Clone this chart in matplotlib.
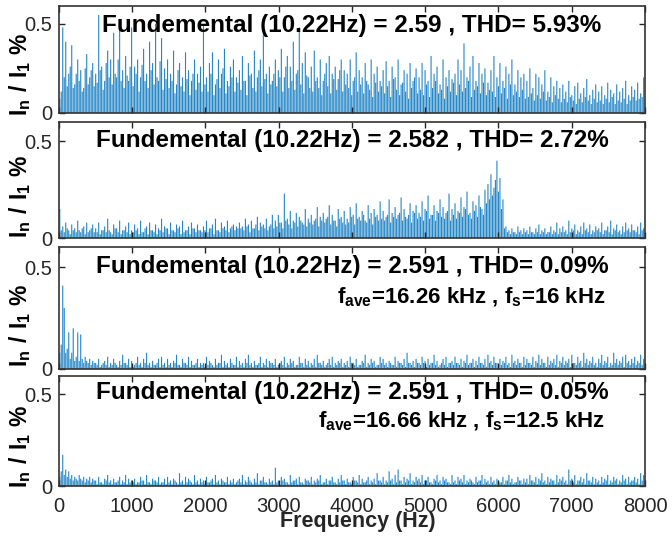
import numpy as np
import matplotlib
matplotlib.use('Agg')
import matplotlib.pyplot as plt

plt.rcParams['font.family'] = ['Liberation Sans', 'DejaVu Sans']
plt.rcParams['mathtext.fontset'] = 'custom'
plt.rcParams['mathtext.rm'] = 'Liberation Sans'
plt.rcParams['mathtext.bf'] = 'Liberation Sans:bold'

# fundamental frequency and harmonic step used for each plotted bar
f0 = 10.22
step = 2

# harmonic amplitudes, in units of 0.01 % of I1 (one row ~ 490 Hz)
amp_a = [
    8, 12, 48, 20, 40, 15, 22, 26, 38, 14, 16, 22, 30, 18, 24, 12, 14, 25, 33, 16, 20, 24, 28, 15,
    22, 17, 55, 24, 26, 13, 18, 28, 35, 20, 30, 16, 45, 22, 20, 30, 50, 18, 24, 14, 32, 21, 18, 26,
    48, 15, 26, 22, 30, 12, 20, 27, 36, 18, 22, 14, 40, 24, 28, 16, 50, 20, 18, 29, 42, 13, 25, 19,
    30, 14, 22, 18, 35, 11, 16, 24, 28, 15, 20, 12, 34, 19, 24, 10, 18, 22, 30, 13, 22, 17, 26, 12,
    49, 16, 20, 12, 28, 22, 34, 10, 16, 19, 30, 14, 22, 25, 36, 11, 18, 15, 26, 20, 30, 12, 20, 17,
    24, 13, 32, 18, 18, 10, 28, 21, 22, 14, 35, 12, 20, 24, 30, 15, 49, 19, 22, 11, 26, 16, 18, 22,
    30, 15, 24, 20, 36, 12, 20, 26, 32, 14, 26, 18, 40, 13, 22, 24, 48, 16, 28, 11, 34, 21, 20, 14,
    26, 12, 35, 18, 20, 14, 30, 10, 18, 22, 28, 15, 32, 11, 22, 19, 26, 13, 19, 24, 30, 12, 24, 16,
    22, 14, 30, 10, 18, 20, 34, 12, 24, 16, 20, 11, 28, 18, 16, 13, 30, 9, 22, 17, 26, 12, 18, 15,
    24, 11, 29, 15, 18, 9, 26, 19, 20, 13, 30, 10, 16, 17, 24, 12, 22, 8, 28, 14, 18, 20, 25, 11,
    20, 13, 28, 10, 24, 16, 18, 9, 32, 14, 22, 18, 26, 11, 16, 13, 30, 8, 20, 15, 24, 12, 19, 17,
    22, 10, 30, 16, 24, 12, 39, 14, 20, 18, 26, 9, 32, 13, 18, 15, 28, 11, 22, 17, 25, 10, 17, 13,
    24, 12, 32, 9, 20, 15, 28, 11, 18, 14, 26, 8, 22, 16, 30, 10, 16, 12, 24, 9, 20, 13, 22, 8,
    18, 9, 25, 11, 14, 7, 22, 10, 20, 8, 16, 12, 24, 7, 12, 9, 20, 6, 15, 10, 18, 8, 14, 6,
    16, 8, 12, 6, 18, 9, 10, 7, 15, 5, 17, 8, 11, 6, 14, 9, 19, 7, 10, 5, 13, 8, 16, 6,
    12, 7, 15, 5, 10, 8, 17, 6, 13, 9, 11, 5, 16, 7, 12, 6, 14, 8, 18, 5, 10, 7, 15, 9,
    13, 7, 17, 8, 11, 9, 20,
]
amp_b = [
    15, 4, 6, 3, 8, 5, 4, 2, 7, 4, 5, 3, 9, 4, 3, 5, 6, 2, 8, 3, 4, 5, 7, 3,
    5, 3, 8, 2, 4, 4, 6, 3, 10, 4, 3, 2, 7, 5, 5, 3, 9, 2, 4, 4, 6, 3, 8, 2,
    4, 3, 7, 4, 5, 2, 9, 3, 3, 5, 6, 2, 8, 4, 4, 3, 7, 2, 5, 4, 10, 3, 6, 5,
    5, 2, 8, 4, 4, 3, 7, 5, 6, 2, 9, 3, 4, 4, 6, 2, 8, 5, 5, 3, 7, 4, 4, 3,
    6, 4, 9, 3, 5, 5, 7, 2, 10, 4, 4, 3, 8, 5, 6, 4, 9, 3, 5, 6, 7, 4, 6, 5,
    8, 5, 6, 4, 10, 6, 7, 3, 9, 5, 5, 7, 11, 4, 8, 6, 7, 5, 10, 4, 6, 7, 12, 5,
    9, 6, 12, 8, 8, 5, 23, 9, 10, 7, 14, 5, 9, 8, 13, 6, 11, 9, 8, 7, 15, 6, 10, 8,
    12, 7, 9, 10, 16, 6, 11, 9, 13, 8, 10, 11, 17, 7, 12, 9, 9, 6, 15, 10, 11, 8, 14, 7,
    10, 8, 16, 11, 12, 7, 18, 10, 11, 9, 14, 12, 9, 8, 17, 10, 13, 7, 15, 11, 12, 9, 19, 10,
    14, 9, 11, 12, 20, 8, 13, 11, 16, 10, 12, 13, 21, 9, 15, 11, 10, 12, 18, 8, 14, 13, 17, 10,
    13, 11, 19, 9, 15, 14, 22, 10, 12, 12, 17, 9, 14, 13, 20, 11, 16, 10, 13, 14, 23, 9, 15, 12,
    18, 10, 14, 13, 21, 11, 16, 15, 24, 12, 13, 10, 19, 14, 17, 11, 22, 16, 15, 12, 25, 18, 28, 20,
    33, 22, 26, 30, 40, 24, 31, 15, 20, 5, 6, 3, 4, 2, 5, 3, 3, 2, 6, 3, 4, 2, 5, 3,
    4, 2, 6, 3, 3, 2, 5, 3, 7, 2, 4, 3, 5, 2, 3, 3, 6, 2, 4, 3, 8, 2, 5, 3,
    6, 3, 4, 2, 9, 3, 5, 4, 7, 2, 4, 3, 6, 2, 8, 4, 5, 3, 7, 2, 4, 3, 6, 4,
    5, 3, 8, 2, 4, 4, 6, 3, 9, 2, 5, 4, 7, 3, 4, 2, 6, 3, 8, 4, 5, 3, 7, 4,
    4, 3, 6, 2, 8, 4, 5,
]
amp_c = [
    8, 12, 41, 30, 8, 10, 18, 5, 8, 20, 4, 6, 18, 4, 17, 5, 3, 6, 4, 3, 5, 2, 4, 3,
    3, 2, 5, 1, 2, 3, 4, 2, 6, 1, 3, 2, 5, 3, 2, 1, 4, 2, 7, 3, 3, 2, 5, 1,
    4, 1, 2, 3, 6, 2, 3, 1, 5, 3, 8, 2, 3, 1, 4, 2, 2, 3, 5, 1, 6, 2, 3, 1,
    5, 2, 3, 1, 4, 3, 7, 2, 2, 1, 5, 3, 3, 2, 6, 1, 4, 2, 2, 3, 5, 1, 3, 2,
    3, 1, 6, 2, 4, 3, 2, 1, 5, 2, 3, 3, 7, 1, 4, 2, 3, 1, 5, 3, 2, 2, 6, 1,
    4, 2, 3, 1, 5, 3, 7, 2, 3, 1, 4, 2, 2, 3, 6, 1, 3, 2, 5, 1, 4, 3, 3, 2,
    5, 1, 2, 3, 4, 2, 6, 1, 3, 2, 5, 3, 4, 1, 2, 2, 6, 3, 3, 1, 5, 2, 4, 1,
    3, 2, 5, 1, 7, 3, 3, 2, 4, 1, 2, 3, 5, 2, 6, 1, 3, 2, 4, 3, 5, 1, 3, 2,
    4, 1, 6, 3, 3, 2, 5, 1, 2, 2, 4, 3, 7, 1, 3, 2, 5, 3, 4, 1, 2, 2, 6, 3,
    5, 2, 3, 1, 4, 3, 2, 2, 6, 1, 4, 3, 3, 2, 5, 1, 8, 3, 3, 2, 4, 1, 5, 3,
    3, 2, 6, 3, 4, 1, 5, 2, 3, 3, 7, 2, 4, 1, 2, 3, 5, 2, 6, 1, 3, 3, 4, 2,
    6, 3, 3, 2, 5, 1, 4, 3, 7, 2, 3, 3, 5, 1, 4, 2, 6, 3, 3, 2, 5, 1, 7, 3,
    4, 2, 6, 3, 3, 1, 5, 2, 4, 3, 6, 2, 3, 1, 7, 3, 4, 2, 5, 3, 3, 1, 6, 2,
    5, 3, 3, 2, 6, 1, 4, 3, 7, 2, 5, 3, 3, 1, 6, 2, 4, 3, 5, 2, 7, 1, 4, 3,
    6, 2, 4, 3, 5, 1, 7, 3, 3, 2, 6, 3, 4, 1, 8, 3, 5, 2, 4, 3, 6, 2, 3, 1,
    5, 3, 7, 2, 4, 3, 6, 1, 3, 2, 8, 3, 5, 2, 4, 3, 6, 1, 7, 3, 4, 2, 5, 3,
    6, 2, 4, 3, 7, 2, 5,
]
amp_d = [
    5, 8, 17, 6, 9, 5, 8, 4, 6, 3, 5, 4, 3, 6, 4, 3, 5, 2, 4, 3, 5, 2, 4, 3,
    3, 1, 5, 2, 2, 1, 4, 3, 6, 2, 3, 1, 4, 2, 2, 3, 5, 1, 3, 2, 6, 1, 4, 2,
    3, 2, 4, 1, 2, 2, 5, 3, 3, 1, 6, 2, 2, 1, 4, 3, 3, 2, 5, 1, 2, 2, 4, 1,
    5, 2, 3, 1, 4, 3, 2, 1, 7, 2, 3, 1, 5, 2, 4, 3, 2, 1, 6, 2, 3, 1, 4, 2,
    3, 1, 5, 2, 2, 3, 4, 1, 6, 2, 3, 1, 4, 3, 2, 2, 5, 1, 3, 2, 4, 1, 2, 3,
    4, 2, 6, 1, 3, 2, 5, 3, 2, 1, 4, 2, 7, 1, 3, 3, 5, 2, 2, 1, 4, 2, 3, 1,
    10, 2, 3, 1, 5, 3, 4, 2, 2, 1, 6, 2, 3, 3, 4, 1, 5, 2, 2, 1, 4, 3, 3, 2,
    5, 1, 3, 2, 4, 3, 6, 1, 2, 2, 4, 1, 3, 3, 5, 2, 2, 1, 4, 2, 6, 3, 3, 1,
    4, 2, 2, 1, 5, 3, 3, 2, 6, 1, 4, 2, 2, 3, 5, 1, 3, 2, 4, 1, 7, 3, 3, 2,
    5, 1, 3, 2, 8, 3, 4, 1, 6, 2, 9, 3, 3, 1, 5, 2, 4, 3, 7, 1, 3, 2, 5, 3,
    4, 2, 6, 1, 3, 3, 5, 2, 2, 1, 4, 3, 6, 2, 3, 1, 5, 3, 4, 2, 2, 1, 6, 2,
    3, 1, 5, 3, 4, 2, 6, 1, 3, 2, 4, 3, 2, 1, 5, 2, 3, 3, 6, 1, 4, 2, 3, 1,
    5, 2, 3, 1, 4, 3, 2, 2, 5, 1, 3, 3, 6, 2, 4, 1, 2, 2, 5, 3, 3, 1, 4, 2,
    4, 1, 6, 3, 3, 2, 5, 1, 4, 3, 7, 2, 3, 1, 5, 2, 4, 3, 3, 1, 6, 2, 4, 3,
    5, 2, 3, 1, 9, 3, 4, 2, 6, 1, 3, 3, 5, 2, 4, 1, 7, 3, 3, 2, 5, 1, 4, 2,
    3, 1, 5, 2, 4, 3, 6, 1, 3, 2, 5, 3, 4, 1, 3, 2, 6, 3, 4, 1, 5, 2, 3, 3,
    5, 2, 4, 1, 7, 3, 6,
]

titles = [
    'Fundemental (10.22Hz) = 2.59 , THD= 5.93%',
    'Fundemental (10.22Hz) = 2.582 , THD= 2.72%',
    'Fundemental (10.22Hz) = 2.591 , THD= 0.09%',
    'Fundemental (10.22Hz) = 2.591 , THD= 0.05%',
]
subtitles = [
    None,
    None,
    r'$\mathbf{f_{ave}}$' + '=16.26 kHz , ' + r'$\mathbf{f_s}$' + '=16 kHz',
    r'$\mathbf{f_{ave}}$' + '=16.66 kHz , ' + r'$\mathbf{f_s}$' + '=12.5 kHz',
]
xticks = [0, 1000, 2000, 3000, 4000, 5000, 6000, 7000, 8000]
yticks = [0, 0.5]

# axes boxes in figure fraction (left, bottom, width, height)
boxes = [
    (0.0878, 0.7904, 0.872, 0.1985),
    (0.0878, 0.5584, 0.872, 0.2152),
    (0.0878, 0.3154, 0.872, 0.2263),
    (0.0878, 0.0983, 0.872, 0.2041),
]
title_off = [-14, -13, -14, -12]
sub_off = [0, 0, -36, -33]

fig = plt.figure(figsize=(6.72, 5.39), dpi=100)
tick_col = '#262626'

for i, amp in enumerate([amp_a, amp_b, amp_c, amp_d]):
    ax = fig.add_axes(boxes[i])
    vals = np.array(amp) / 100.0
    freq = f0 * (1 + step * np.arange(len(vals)))
    ax.bar(freq, vals, width=f0 * step * 0.75, color='#0072BD', alpha=0.85,
           linewidth=0, snap=False)
    ax.set_xlim(0, 8000)
    ax.set_ylim(0, 0.6)
    ax.set_xticks(xticks)
    ax.set_yticks(yticks)
    ax.set_yticklabels(['0', '0.5'])
    ax.tick_params(direction='in', top=True, right=True, length=4, width=1,
                   colors=tick_col, labelsize=14.5)
    ax.tick_params(axis='y', pad=5)
    ax.tick_params(axis='x', pad=8)
    if i < 3:
        ax.tick_params(labelbottom=False)
    for s in ax.spines.values():
        s.set_color('#333333')
        s.set_linewidth(1.2)
    ax.set_ylabel(r'$\mathbf{I_n\ /\ I_1\ \%}$', fontsize=16.5, va='center')
    ax.yaxis.set_label_coords(-0.066, 0.36)
    ax.annotate(titles[i], xy=(0.5, 1), xycoords='axes fraction',
                xytext=(0, title_off[i]), textcoords='offset points',
                ha='center', va='center', fontsize=17.5, fontweight='bold')
    if subtitles[i]:
        ax.annotate(subtitles[i], xy=(0.933, 1), xycoords='axes fraction',
                    xytext=(0, sub_off[i]), textcoords='offset points',
                    ha='right', va='center', fontsize=16, fontweight='bold')

fig.text(358 / 672, 1 - 522 / 539, 'Frequency (Hz)', ha='center', va='center',
         fontsize=15.5, fontweight='bold', color=tick_col)

fig.savefig('out.png', dpi=100)
